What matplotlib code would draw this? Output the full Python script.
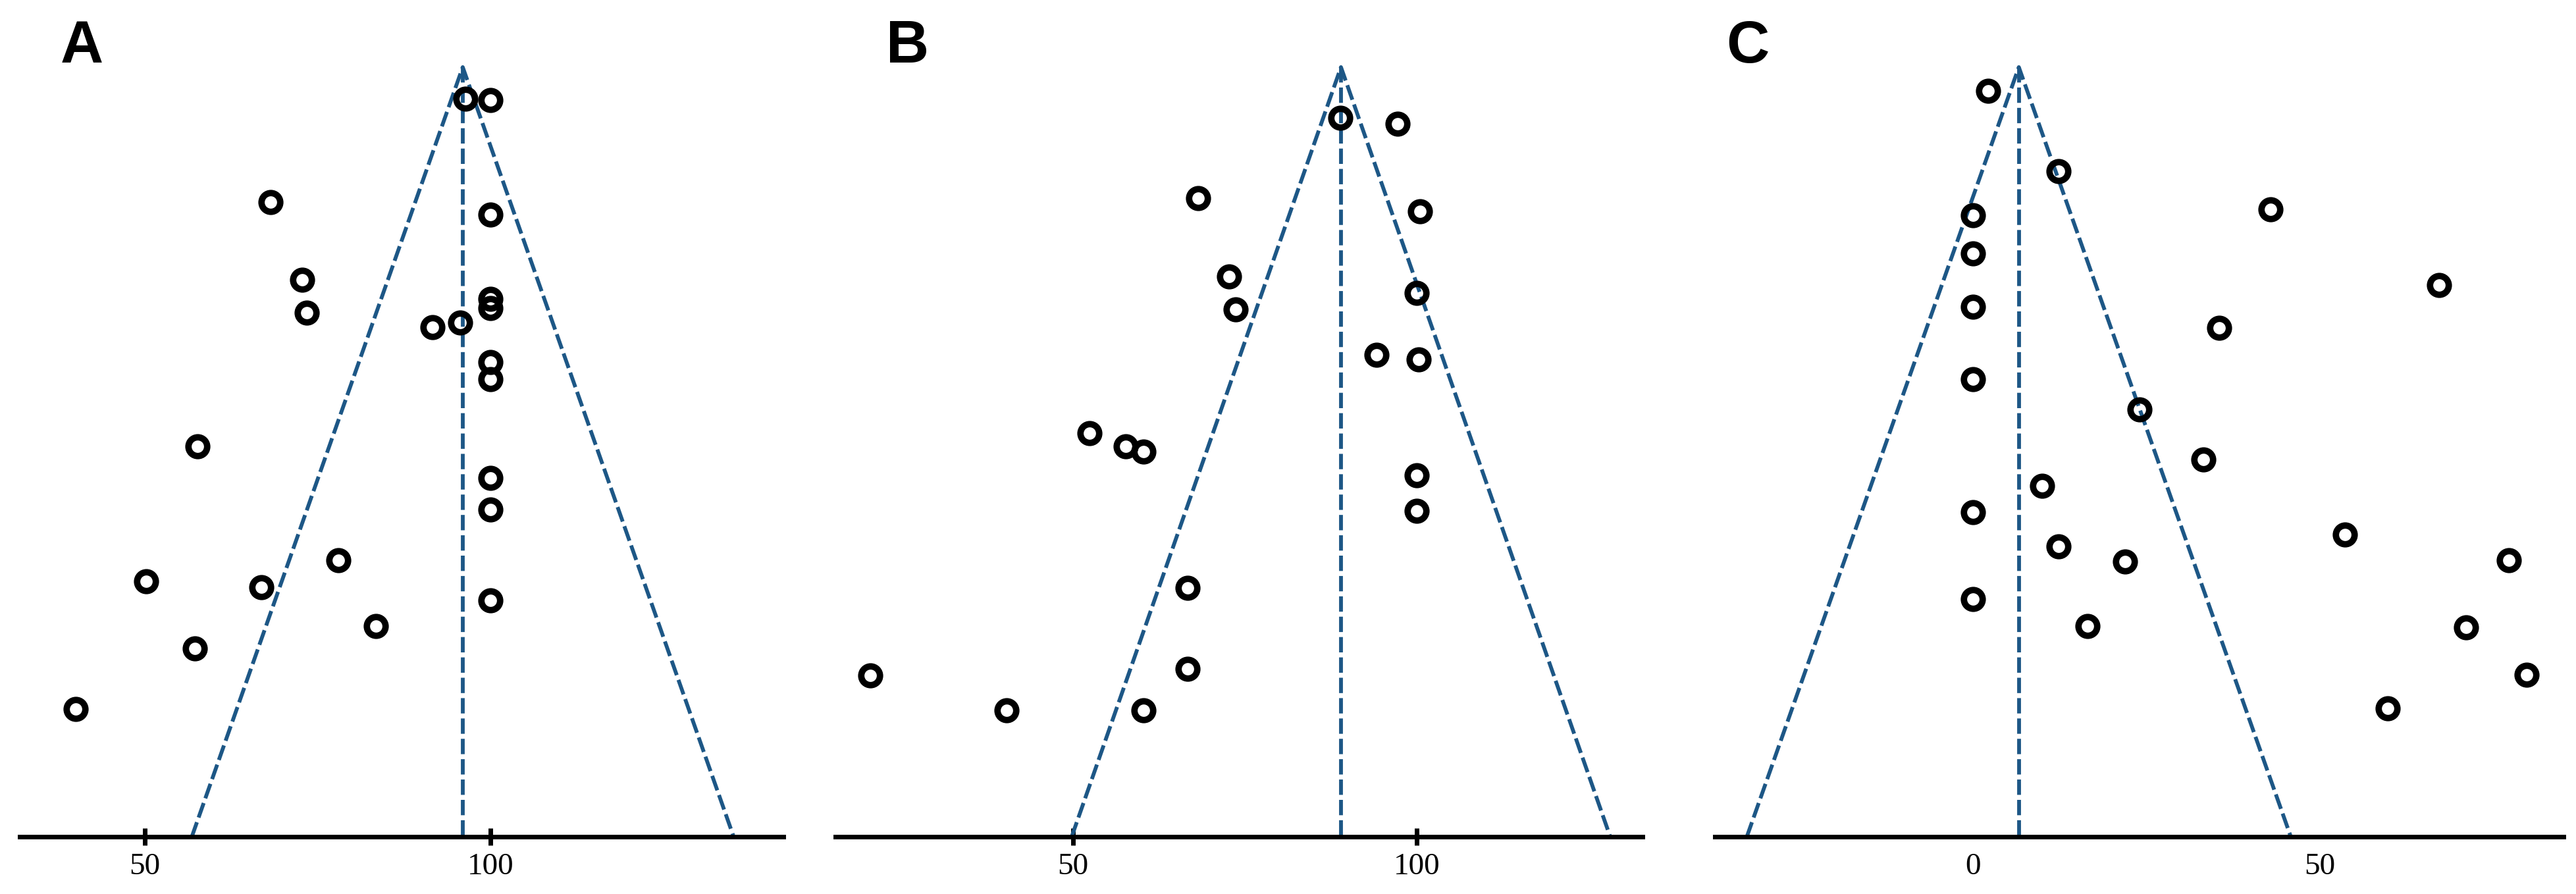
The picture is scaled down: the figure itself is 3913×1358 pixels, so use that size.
import matplotlib
matplotlib.use("Agg")
import matplotlib.pyplot as plt

# ------- DADOS --------------------------------

# Painel A: efeito x erro padrão
a_efeito = [96.4, 100, 68.2, 100, 72.8, 100, 100, 73.4, 91.6, 95.6, 100,
            100, 57.6, 100, 100, 78.0, 50.2, 66.9, 100, 83.4, 57.2, 40.0]
a_ep = [0.82, 0.85, 3.51, 3.84, 5.52, 6.03, 6.26, 6.38, 6.75, 6.64, 7.66,
        8.11, 9.86, 10.67, 11.49, 12.81, 13.37, 13.52, 13.85, 14.53, 15.11, 16.68]

# Painel B
b_efeito = [88.9, 97.2, 68.2, 100.5, 72.7, 100, 73.7, 94.2, 100.3, 52.4,
            57.7, 60.3, 100, 100, 66.7, 20.5, 66.7, 40.3, 60.3]
b_ep = [1.32, 1.47, 3.40, 3.75, 5.44, 5.87, 6.29, 7.47, 7.59, 9.52,
        9.86, 9.99, 10.60, 11.53, 13.54, 15.80, 15.64, 16.72, 16.72]

# Painel C
c_efeito = [2.2, 12.3, 0, 42.9, 0, 67.2, 0, 35.5, 0, 24.0, 33.2, 10.0, 0,
            53.6, 12.3, 21.9, 77.2, 0, 16.5, 71.1, 79.8, 59.8]
c_ep = [0.62, 2.70, 3.85, 3.69, 4.85, 5.66, 6.23, 6.78, 8.11, 8.90, 10.19,
        10.88, 11.56, 12.14, 12.45, 12.85, 12.81, 13.82, 14.53, 14.56, 15.79, 16.66]

paineis = ["A", "B", "C"]
efeito_central = [96.0, 89.0, 6.6]   # linha vertical do funil
ep_max = 20
limites_x = [(31.9, 142.4), (15.4, 132.9), (-37.2, 85.1)]
ticks_x = [[50, 100], [50, 100], [0, 50]]

efeitos = [a_efeito, b_efeito, c_efeito]
eps = [a_ep, b_ep, c_ep]

# ------- FIGURA -------------
W, H = 3913, 1358
fig = plt.figure(figsize=(W / 100, H / 100), dpi=100)

azul = "#1d5786"
pos_x = [(30, 1160), (1269, 1226), (2605, 1289)]   # em pixels
base, topo = 1271, 102
pos_letra = [92, 1346, 2622]

for i in range(3):
    x0, w = pos_x[i]
    ax = fig.add_axes([x0 / W, (H - base) / H, w / W, (base - topo) / H])
    c = efeito_central[i]

    # funil
    ax.plot([c - 1.96 * ep_max, c, c + 1.96 * ep_max], [ep_max, 0, ep_max],
            color=azul, lw=4.2, dashes=(4.0, 1.3), clip_on=False, zorder=2)
    ax.plot([c, c], [0, ep_max], color=azul, lw=4.2, dashes=(4.0, 1.3),
            clip_on=False, zorder=2)

    # estudos
    ax.plot(efeitos[i], eps[i], "o", ms=20.5, mfc="none", mec="black",
            mew=7, clip_on=False, zorder=3)

    ax.set_xlim(*limites_x[i])
    ax.set_ylim(ep_max, 0)
    for lado in ["left", "right", "top"]:
        ax.spines[lado].set_visible(False)
    ax.spines["bottom"].set_linewidth(5)
    ax.set_yticks([])
    ax.set_xticks(ticks_x[i])
    ax.tick_params(axis="x", direction="inout", length=19.4,
                   width=0 if i == 2 else 5, pad=8.3, labelsize=34)
    for t in ax.get_xticklabels():
        t.set_fontfamily("Liberation Serif")

    fig.text(pos_letra[i] / W, (H - 95) / H, paineis[i], fontsize=65,
             fontweight="bold", family="Liberation Sans", va="baseline")

fig.savefig("out.png", dpi=100)
